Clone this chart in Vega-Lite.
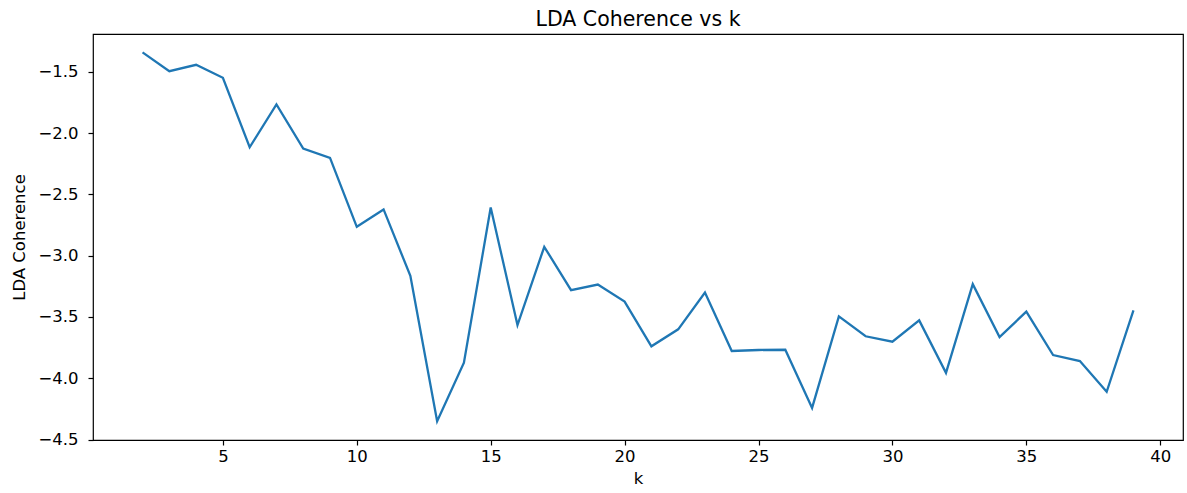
{
  "$schema": "https://vega.github.io/schema/vega-lite/v6.json",
  "width": 1090,
  "height": 406,
  "autosize": {"type": "none"},
  "padding": {"left": 93, "top": 34, "right": 4, "bottom": 53},
  "background": "white",
  "config": {
    "font": "DejaVu Sans",
    "view": {"stroke": "black", "strokeWidth": 1.2},
    "axis": {
      "grid": false,
      "domain": false,
      "tickColor": "black",
      "tickSize": 5,
      "tickWidth": 1.2,
      "labelFont": "DejaVu Sans",
      "labelFontSize": 16.5,
      "labelColor": "black",
      "titleFont": "DejaVu Sans",
      "titleFontSize": 16.5,
      "titleFontWeight": "normal",
      "titleColor": "black"
    }
  },
  "title": {"text": "LDA Coherence vs k", "font": "DejaVu Sans", "fontSize": 20.5, "fontWeight": "normal", "color": "black", "offset": 4},
  "data": {
    "values": [
      {"k": 2, "c": -1.342},
      {"k": 3, "c": -1.495},
      {"k": 4, "c": -1.443},
      {"k": 5, "c": -1.549},
      {"k": 6, "c": -2.116},
      {"k": 7, "c": -1.767},
      {"k": 8, "c": -2.127},
      {"k": 9, "c": -2.203},
      {"k": 10, "c": -2.765},
      {"k": 11, "c": -2.623},
      {"k": 12, "c": -3.165},
      {"k": 13, "c": -4.350},
      {"k": 14, "c": -3.874},
      {"k": 15, "c": -2.607},
      {"k": 16, "c": -3.566},
      {"k": 17, "c": -2.928},
      {"k": 18, "c": -3.282},
      {"k": 19, "c": -3.236},
      {"k": 20, "c": -3.375},
      {"k": 21, "c": -3.740},
      {"k": 22, "c": -3.601},
      {"k": 23, "c": -3.301},
      {"k": 24, "c": -3.778},
      {"k": 25, "c": -3.770},
      {"k": 26, "c": -3.768},
      {"k": 27, "c": -4.242},
      {"k": 28, "c": -3.495},
      {"k": 29, "c": -3.658},
      {"k": 30, "c": -3.702},
      {"k": 31, "c": -3.528},
      {"k": 32, "c": -3.956},
      {"k": 33, "c": -3.233},
      {"k": 34, "c": -3.664},
      {"k": 35, "c": -3.457},
      {"k": 36, "c": -3.811},
      {"k": 37, "c": -3.860},
      {"k": 38, "c": -4.111},
      {"k": 39, "c": -3.446}
    ]
  },
  "mark": {"type": "line", "color": "#1f77b4", "strokeWidth": 2.3},
  "encoding": {
    "x": {
      "field": "k",
      "type": "quantitative",
      "scale": {"domain": [0.15, 40.85], "nice": false, "zero": false},
      "axis": {"values": [5, 10, 15, 20, 25, 30, 35, 40], "title": "k", "labelPadding": 3, "titlePadding": 6}
    },
    "y": {
      "field": "c",
      "type": "quantitative",
      "scale": {"domain": [-4.504, -1.192], "nice": false, "zero": false},
      "axis": {
        "values": [-1.5, -2.0, -2.5, -3.0, -3.5, -4.0, -4.5],
        "labelExpr": "replace(format(datum.value, '.1f'), '-', '\u2212')",
        "title": "LDA Coherence",
        "labelPadding": 10,
        "titlePadding": 10
      }
    }
  }
}
